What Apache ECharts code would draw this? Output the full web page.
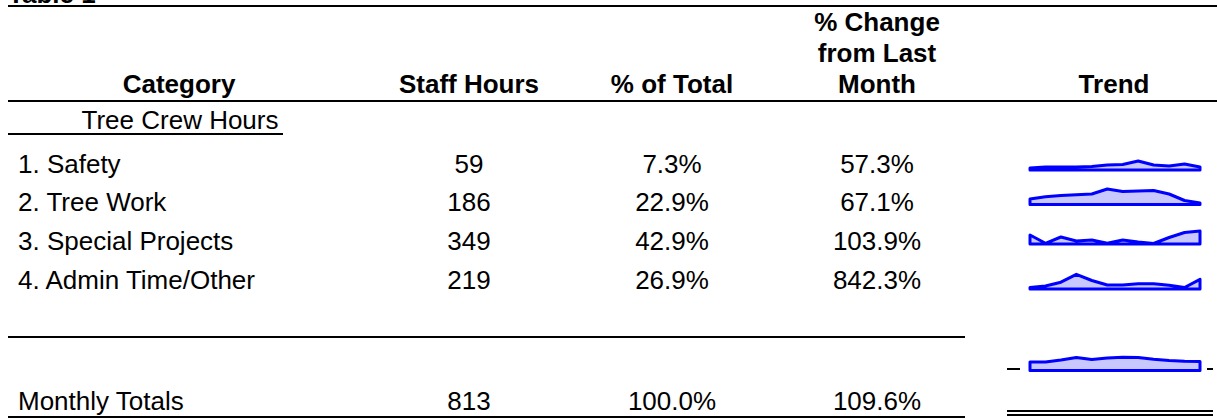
<!DOCTYPE html>
<html><head><meta charset="utf-8">
<script src="https://cdn.jsdelivr.net/npm/echarts@6/dist/echarts.min.js"></script>
<style>html,body{margin:0;padding:0;background:#fff}#c{width:1217px;height:419px}</style>
</head><body><div id="c"></div>
<script>
// ---------- data ----------
const tableTitle = "Table 1";
const headerCategory = "Category";
const headerHours = "Staff Hours";
const headerPct = "% of Total";
const headerChange = "% Change\nfrom Last\nMonth";
const headerTrend = "Trend";
const sectionLabel = "Tree Crew Hours";
const categories = ["1. Safety", "2. Tree Work", "3. Special Projects", "4. Admin Time/Other"];
const staffHours = [59, 186, 349, 219];
const pctOfTotal = [7.3, 22.9, 42.9, 26.9];
const pctChange = [57.3, 67.1, 103.9, 842.3];
const totalLabel = "Monthly Totals";
const totalHours = 813;
const totalPct = 100.0;
const totalChange = 109.6;
const periods = ["1","2","3","4","5","6","7","8","9","10","11","12"];
const trendSafety   = [2, 3, 3, 3, 3.5, 5, 5.5, 9, 5, 4, 6, 3];
const trendTreeWork = [5.5, 7.8, 9, 9.7, 10.5, 15.5, 13, 13.5, 14, 10.5, 4, 1.5];
const trendSpecial  = [9, 0.7, 7, 3, 4, 0.7, 4, 2, 0.5, 6.5, 11.5, 13];
const trendAdmin    = [1.5, 3, 6.8, 14.7, 8.5, 4, 4, 5.3, 5.2, 3.7, 1.5, 9.7];
const trendTotal    = [8.5, 8.5, 10.5, 13, 11, 12.5, 13.2, 13, 11.2, 10, 9.2, 9];

// ---------- layout ----------
const FONT = '"Liberation Sans", Arial, sans-serif';
const FS = 26;
const colHours = 469, colPct = 672, colChange = 877, colTrend = 1114, colCat = 179;
const rowY = [164, 202, 241, 280];
const totalY = 401;
const labelX = 18;
const trendSeries = [trendSafety, trendTreeWork, trendSpecial, trendAdmin, trendTotal];
const trendBase = [170, 204.5, 244, 289, 370.5];
const SPARK_H = 20;

const chart = echarts.init(document.getElementById('c'), null, {renderer: 'svg'});

function txt(text, x, y, opts) {
  opts = opts || {};
  return {
    type: 'text', x: x, y: y, silent: true,
    style: {
      text: text,
      font: (opts.bold ? 'bold ' : '') + FS + 'px ' + FONT,
      fill: '#000',
      align: opts.align || 'center',
      verticalAlign: 'middle',
      lineHeight: opts.lineHeight || FS
    }
  };
}
function hline(x1, x2, y, w) {
  return {type: 'line', silent: true, shape: {x1: x1, y1: y, x2: x2, y2: y},
          style: {stroke: '#000', lineWidth: w || 2}};
}

const graphics = [];
graphics.push(txt(tableTitle, 8, -6, {bold: true, align: 'left'}));
graphics.push(hline(8, 1217, 6));
graphics.push(txt(headerCategory, colCat, 84, {bold: true}));
graphics.push(txt(headerHours, colHours, 84, {bold: true}));
graphics.push(txt(headerPct, colPct, 84, {bold: true}));
graphics.push(txt(headerChange, colChange, 53, {bold: true, lineHeight: 31}));
graphics.push(txt(headerTrend, colTrend, 84, {bold: true}));
graphics.push(hline(8, 1217, 101));
graphics.push(txt(sectionLabel, 180, 120));
graphics.push(hline(8, 283, 134));
categories.forEach(function (c, i) {
  graphics.push(txt(c, labelX, rowY[i], {align: 'left'}));
  graphics.push(txt(String(staffHours[i]), colHours, rowY[i]));
  graphics.push(txt(pctOfTotal[i].toFixed(1) + '%', colPct, rowY[i]));
  graphics.push(txt(pctChange[i].toFixed(1) + '%', colChange, rowY[i]));
});
graphics.push(hline(8, 965, 337));
graphics.push(txt(totalLabel, labelX, totalY, {align: 'left'}));
graphics.push(txt(String(totalHours), colHours, totalY));
graphics.push(txt(totalPct.toFixed(1) + '%', colPct, totalY));
graphics.push(txt(totalChange.toFixed(1) + '%', colChange, totalY));
graphics.push(hline(8, 965, 417));
graphics.push(hline(1007, 1020, 369));
graphics.push(hline(1207, 1213, 369));
graphics.push(hline(1007, 1213, 411));
graphics.push(hline(1007, 1213, 415));

const grids = [], xAxes = [], yAxes = [], series = [];
trendSeries.forEach(function (vals, k) {
  grids.push({left: 1030, width: 170, top: trendBase[k] - SPARK_H, height: SPARK_H});
  xAxes.push({type: 'category', gridIndex: k, data: periods, boundaryGap: false, show: false});
  yAxes.push({type: 'value', gridIndex: k, min: 0, max: SPARK_H, show: false});
  series.push({
    type: 'custom', xAxisIndex: k, yAxisIndex: k, silent: true,
    data: vals.map(function (v, i) { return [i, v]; }),
    renderItem: function (params, api) {
      if (params.dataIndex !== 0) return null;
      const pts = [api.coord([0, 0])];
      vals.forEach(function (v, i) { pts.push(api.coord([i, v])); });
      pts.push(api.coord([vals.length - 1, 0]));
      return {type: 'polygon', shape: {points: pts},
              style: {fill: '#c8c8ff', stroke: '#0000ff', lineWidth: 3, lineJoin: 'round'}};
    }
  });
});

chart.setOption({
  animation: false,
  backgroundColor: '#fff',
  grid: grids, xAxis: xAxes, yAxis: yAxes, series: series,
  graphic: {elements: graphics}
});
</script></body></html>
